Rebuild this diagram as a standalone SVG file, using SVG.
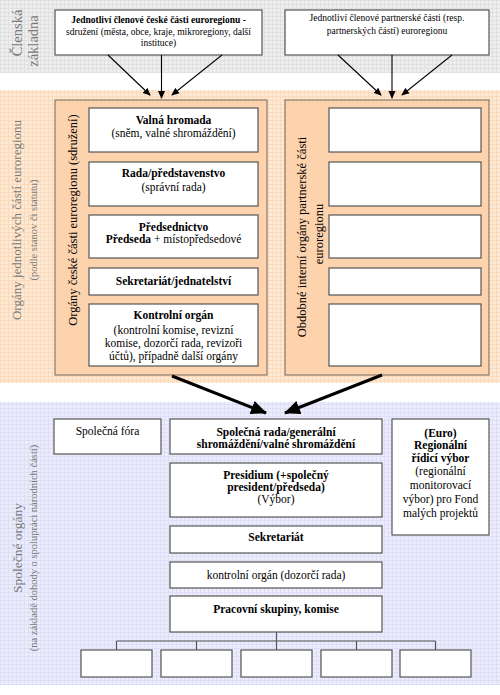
<svg xmlns="http://www.w3.org/2000/svg" width="500" height="695" viewBox="0 0 500 695" font-family="'Liberation Serif', 'Times New Roman', serif">
<defs>
<pattern id="gGray" width="4" height="4" patternUnits="userSpaceOnUse"><rect width="4" height="4" fill="#eeeeee"/><path d="M0 0.5H4M0.5 0V4" stroke="#e0e0e0" stroke-width="1"/></pattern>
<pattern id="gOrange" width="4" height="4" patternUnits="userSpaceOnUse"><rect width="4" height="4" fill="#fee9d4"/><path d="M0 0.5H4M0.5 0V4" stroke="#fbdabc" stroke-width="1"/></pattern>
<pattern id="gBlue" width="4" height="4" patternUnits="userSpaceOnUse"><rect width="4" height="4" fill="#ececfc"/><path d="M0 0.5H4M0.5 0V4" stroke="#dedef6" stroke-width="1"/></pattern>
<marker id="ah" markerWidth="8" markerHeight="8" refX="7" refY="4" orient="auto" markerUnits="userSpaceOnUse"><path d="M0,0.5 L8,4 L0,7.5 Z" fill="#000"/></marker>
<marker id="bh" markerWidth="16" markerHeight="14" refX="15" refY="7" orient="auto" markerUnits="userSpaceOnUse"><path d="M0,0 L16,7 L0,14 Z" fill="#000"/></marker>
</defs>
<style>
.box{fill:#fff;stroke:#555;stroke-width:1.2}
.cont{fill:#fcd3ad;stroke:#8a7a6a;stroke-width:1.2}
text{font-family:'Liberation Serif','Times New Roman',serif;fill:#000}
.t{font-size:11.5px;text-anchor:middle}
.s{font-size:9.5px;text-anchor:middle}
.b{font-weight:bold}
.side{fill:#7a7a7a;text-anchor:middle}
.thin{stroke:#000;stroke-width:1.1;fill:none}
.thick{stroke:#000;stroke-width:3;fill:none}
.tree{stroke:#555;stroke-width:1.2;fill:none}
</style>

<!-- backgrounds -->
<rect x="0" y="0" width="500" height="73" fill="url(#gGray)"/>
<rect x="0" y="90" width="500" height="293" fill="url(#gOrange)"/>
<rect x="0" y="402" width="500" height="283" fill="url(#gBlue)"/>

<!-- side labels -->
<g id="label-clenska">
<text class="side" font-size="14.5" transform="translate(22,33) rotate(-90)">Členská</text>
<text class="side" font-size="14.5" transform="translate(38,41) rotate(-90)">základna</text>
</g>
<g id="label-organy">
<text class="side" font-size="13" transform="translate(21,220) rotate(-90)">Orgány jednotlivých částí euroregionu</text>
<text class="side" font-size="10.5" transform="translate(37,230) rotate(-90)">(podle stanov či statutu)</text>
</g>
<g id="label-spolecne">
<text class="side" font-size="13.5" transform="translate(22,548) rotate(-90)">Společné orgány</text>
<text class="side" font-size="10.5" transform="translate(37,548) rotate(-90)">(na základě dohody o spolupráci národních částí)</text>
</g>

<!-- top boxes -->
<g id="members-cz">
<rect class="box" x="55" y="10" width="207" height="45"/>
<text class="s b" x="158.5" y="23">Jednotliví členové české části euroregionu -</text>
<text class="s" x="158.5" y="35">sdružení (města, obce, kraje, mikroregiony, další</text>
<text class="s" x="158.5" y="46">instituce)</text>
</g>
<g id="members-partner">
<rect class="box" x="285" y="10" width="204" height="45"/>
<text class="s" x="387" y="21">Jednotliví členové partnerské části (resp.</text>
<text class="s" x="387" y="34">partnerských částí) euroregionu</text>
</g>

<!-- containers -->
<g id="cz-organs">
<rect class="cont" x="55" y="100" width="212" height="275"/>
<text font-size="12.5" fill="#333" text-anchor="middle" transform="translate(77,220) rotate(-90)">Orgány české části euroregionu (sdružení)</text>
</g>
<g id="partner-organs">
<rect class="cont" x="285" y="100" width="204" height="275"/>
<text font-size="12.5" fill="#333" text-anchor="middle" transform="translate(306,237) rotate(-90)">Obdobné interní orgány partnerské  části</text>
<text font-size="12.5" fill="#333" text-anchor="middle" transform="translate(323,234) rotate(-90)">euroregionu</text>
</g>

<g id="valna-hromada">
<rect class="box" x="89" y="108" width="169" height="44"/>
<text class="t b" x="173.5" y="124">Valná hromada</text>
<text class="t" x="173.5" y="137">(sněm, valné shromáždění)</text>
</g>
<g id="rada">
<rect class="box" x="89" y="162" width="169" height="44"/>
<text class="t b" x="173.5" y="177">Rada/představenstvo</text>
<text class="t" x="173.5" y="191">(správní rada)</text>
</g>
<g id="predsednictvo">
<rect class="box" x="89" y="215" width="169" height="43"/>
<text class="t b" x="173.5" y="231">Předsednictvo</text>
<text class="t" x="173.5" y="243"><tspan font-weight="bold">Předseda</tspan> + místopředsedové</text>
</g>
<g id="sekretariat-cz">
<rect class="box" x="89" y="268" width="169" height="27"/>
<text class="t b" x="173.5" y="285">Sekretariát/jednatelství</text>
</g>
<g id="kontrolni-cz">
<rect class="box" x="89" y="304" width="169" height="62"/>
<text class="t b" x="173.5" y="319">Kontrolní orgán</text>
<text class="t" x="173.5" y="334">(kontrolní komise, revizní</text>
<text class="t" x="173.5" y="347">komise, dozorčí rada, revizoři</text>
<text class="t" x="173.5" y="360">účtů), případně další orgány</text>
</g>

<g id="partner-1"><rect class="box" x="329" y="108" width="152" height="44"/></g>
<g id="partner-2"><rect class="box" x="329" y="162" width="152" height="44"/></g>
<g id="partner-3"><rect class="box" x="329" y="215" width="152" height="43"/></g>
<g id="partner-4"><rect class="box" x="329" y="268" width="152" height="27"/></g>
<g id="partner-5"><rect class="box" x="329" y="304" width="152" height="62"/></g>

<!-- bottom boxes -->
<g id="spolecna-fora">
<rect class="box" x="54" y="419" width="107" height="35"/>
<text class="t" x="107.5" y="435">Společná fóra</text>
</g>
<g id="spolecna-rada">
<rect class="box" x="170" y="419" width="212" height="35"/>
<text class="t b" x="276" y="436">Společná rada/generální</text>
<text class="t b" x="276" y="448">shromáždění/valné shromáždění</text>
</g>
<g id="ridici-vybor">
<rect class="box" x="392" y="419" width="97" height="116"/>
<text class="t b" x="440.5" y="437">(Euro)</text>
<text class="t b" x="440.5" y="449">Regionální</text>
<text class="t b" x="440.5" y="462">řídicí výbor</text>
<text class="t" x="440.5" y="475">(regionální</text>
<text class="t" x="440.5" y="489">monitorovací</text>
<text class="t" x="440.5" y="503">výbor) pro Fond</text>
<text class="t" x="440.5" y="517">malých projektů</text>
</g>
<g id="presidium">
<rect class="box" x="170" y="463" width="212" height="54"/>
<text class="t b" x="276" y="479">Presidium (+společný</text>
<text class="t b" x="276" y="491">president/předseda)</text>
<text class="t" x="276" y="503">(Výbor)</text>
</g>
<g id="sekretariat">
<rect class="box" x="170" y="526" width="212" height="27"/>
<text class="t b" x="276" y="541">Sekretariát</text>
</g>
<g id="kontrolni">
<rect class="box" x="170" y="562" width="212" height="26"/>
<text class="t" x="276" y="579">kontrolní orgán (dozorčí rada)</text>
</g>
<g id="pracovni">
<rect class="box" x="170" y="596" width="212" height="36"/>
<text class="t b" x="276" y="613">Pracovní skupiny, komise</text>
</g>
<g id="sub-1"><rect class="box" x="81" y="650" width="71" height="27"/></g>
<g id="sub-2"><rect class="box" x="161" y="650" width="71" height="27"/></g>
<g id="sub-3"><rect class="box" x="241" y="650" width="71" height="27"/></g>
<g id="sub-4"><rect class="box" x="321" y="650" width="71" height="27"/></g>
<g id="sub-5"><rect class="box" x="400" y="650" width="71" height="27"/></g>

<!-- connectors -->
<g id="connectors">
<line class="thin" x1="108" y1="55" x2="150" y2="95" marker-end="url(#ah)"/>
<line class="thin" x1="161.5" y1="55" x2="161.5" y2="98" marker-end="url(#ah)"/>
<line class="thin" x1="222" y1="55" x2="172" y2="95" marker-end="url(#ah)"/>
<line class="thin" x1="338" y1="55" x2="381" y2="95" marker-end="url(#ah)"/>
<line class="thin" x1="392" y1="55" x2="392" y2="98" marker-end="url(#ah)"/>
<line class="thin" x1="452" y1="55" x2="402" y2="95" marker-end="url(#ah)"/>
<line class="thick" x1="172" y1="376" x2="266" y2="413" marker-end="url(#bh)"/>
<line class="thick" x1="382" y1="375" x2="285" y2="413" marker-end="url(#bh)"/>
<path class="tree" d="M276.5 632V641M116.5 641H435.5M116.5 641V650M196.5 641V650M276.5 641V650M356.5 641V650M435.5 641V650"/>
</g>
</svg>
